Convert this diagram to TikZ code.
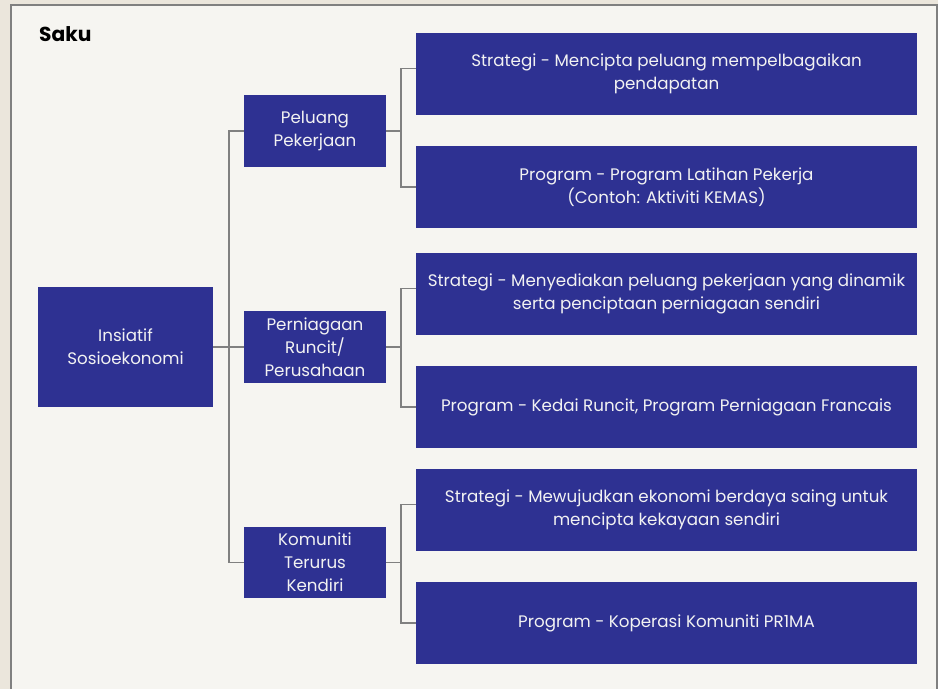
\documentclass[tikz,border=0pt]{standalone}
\usepackage{fontspec}
\setmainfont{Poppins}
\usepackage{tikz}
\usetikzlibrary{positioning}

\definecolor{sakublue}{RGB}{46,49,146}
\definecolor{panelbg}{RGB}{246,245,241}
\definecolor{outerbg}{RGB}{235,230,220}
\definecolor{linegray}{RGB}{128,128,128}

\begin{document}
\begin{tikzpicture}[x=0.02cm,y=-0.02cm]

	\tikzset{box/.style={fill=sakublue, text=white!95!black, align=center, font=\fontsize{9.5}{13.2}\selectfont, inner sep=0pt}}
	\tikzset{rootbox/.style={box, minimum width=3.5cm, minimum height=2.4cm}}
	\tikzset{midbox/.style={box, minimum width=2.84cm, minimum height=1.44cm}}
	\tikzset{planbox/.style={box, minimum width=10.02cm, minimum height=1.64cm}}
	\tikzset{link/.style={draw=linegray, line width=0.8pt}}

	\useasboundingbox (0,0) rectangle (938,689);

	% background and panel
	\fill[outerbg] (0,0) rectangle (938,689);
	\draw[fill=panelbg, draw=gray, line width=1.2pt] (11,5) rectangle (937,700);

	\node[anchor=west, font=\bfseries\fontsize{11.5}{14}\selectfont] (title) at (33,34) {Saku};

	% main initiative
	\node[rootbox] (root) at (125.5,347) {Insiatif\\Sosioekonomi};

	% second level
	\node[midbox] (kerja) at (315,131) {Peluang\\Pekerjaan};
	\node[midbox] (runcit) at (315,347) {Perniagaan\\Runcit/\\Perusahaan};
	\node[midbox] (komuniti) at (315,562.5) {Komuniti\\Terurus\\Kendiri};

	% strategies and programmes
	\node[planbox] (s1) at (666.5,74) {Strategi - Mencipta peluang mempelbagaikan\\pendapatan};
	\node[planbox] (s2) at (666.5,187) {Program - Program Latihan Pekerja\\(Contoh: Aktiviti KEMAS)};
	\node[planbox] (s3) at (666.5,294) {Strategi - Menyediakan peluang pekerjaan yang dinamik\\serta penciptaan perniagaan sendiri};
	\node[planbox] (s4) at (666.5,407) {Program - Kedai Runcit, Program Perniagaan Francais};
	\node[planbox] (s5) at (666.5,510) {Strategi - Mewujudkan ekonomi berdaya saing untuk\\mencipta kekayaan sendiri};
	\node[planbox] (s6) at (666.5,623) {Program - Koperasi Komuniti PR1MA};

	% junctions
	\coordinate (j0) at (229,347);
	\coordinate (j1) at (401,131);
	\coordinate (j2) at (401,347);
	\coordinate (j3) at (401,562.5);

	% tree lines
	\draw[link] (root.east) -- (runcit.west);
	\draw[link] (kerja.west) -| (j0) |- (komuniti.west);
	\draw[link] (kerja.east) -- (j1);
	\draw[link] ([yshift=3pt]s1.west) -| (j1) |- (s2.west);
	\draw[link] (runcit.east) -- (j2);
	\draw[link] ([yshift=3pt]s3.west) -| (j2) |- (s4.west);
	\draw[link] (komuniti.east) -- (j3);
	\draw[link] ([yshift=3pt]s5.west) -| (j3) |- (s6.west);

\end{tikzpicture}
\end{document}
